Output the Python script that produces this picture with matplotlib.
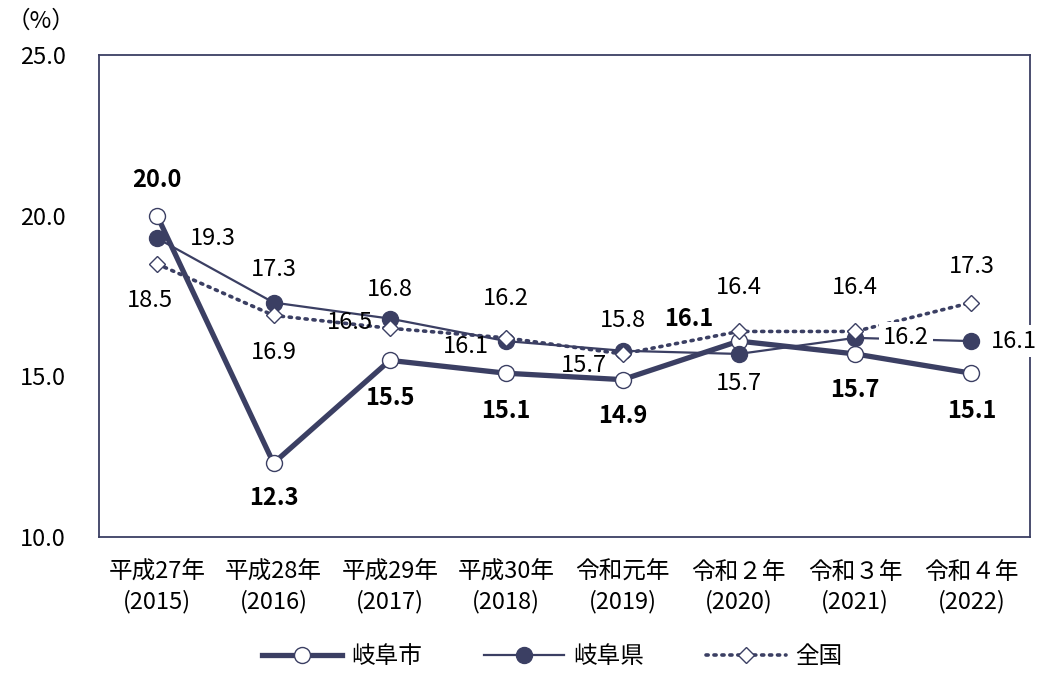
import numpy as np
import matplotlib.pyplot as plt

plt.rcParams['font.family'] = ['Noto Sans CJK JP', 'DejaVu Sans']

# data
years = ['平成27年\n(2015)', '平成28年\n(2016)', '平成29年\n(2017)', '平成30年\n(2018)',
         '令和元年\n(2019)', '令和２年\n(2020)', '令和３年\n(2021)', '令和４年\n(2022)']
gifu_city = [20.0, 12.3, 15.5, 15.1, 14.9, 16.1, 15.7, 15.1]
gifu_pref = [19.3, 17.3, 16.8, 16.1, 15.8, 15.7, 16.2, 16.1]
national = [18.5, 16.9, 16.5, 16.2, 15.7, 16.4, 16.4, 17.3]

navy = '#3b3f63'
x = np.arange(len(years))

fig = plt.figure(figsize=(10.48, 6.73), dpi=100)
ax = fig.add_axes([0.0945, 0.202, 0.888, 0.716])

ax.plot(x, gifu_city, color=navy, lw=3.8, marker='o', ms=11.5, mfc='white',
        mec=navy, mew=1.0, label='岐阜市', zorder=3)
ax.plot(x, gifu_pref, color=navy, lw=1.6, marker='o', ms=11.5, mfc=navy,
        mec=navy, label='岐阜県', zorder=4)
ax.plot(x, national, color=navy, lw=2.6, ls=(0, (0.6, 1.6)), dash_capstyle='round',
        marker='D', ms=8.5, mfc='white', mec=navy, mew=1.0, label='全国', zorder=5)

ax.set_xlim(-0.5, 7.5)
ax.set_ylim(10, 25)
ax.set_yticks([10, 15, 20, 25])
ax.set_yticklabels(['10.0', '15.0', '20.0', '25.0'])
ax.set_xticks(x)
ax.set_xticklabels(years, linespacing=1.35)
ax.tick_params(axis='y', length=0, pad=24, labelsize=17)
ax.tick_params(axis='x', length=0, pad=17, labelsize=17)
for s in ax.spines.values():
    s.set_color(navy)
    s.set_linewidth(1.3)

fs = 17
# label offsets (points)
city_off = [(0, 26), (0, -25), (0, -27), (0, -27), (0, -26), (-36, 16), (0, -26), (0, -27)]
pref_off = [(40, 0), (0, 24), (0, 21), (-29, -4), (0, 22), (0, -21), (20, 0), (14, 0)]
nat_off = [(-5, -26), (0, -27), (-29, 4), (0, 28), (-28, -8), (0, 32), (0, 32), (0, 26)]

for i in range(len(years)):
    ax.annotate(f'{gifu_city[i]:.1f}', (x[i], gifu_city[i]), xytext=city_off[i],
                textcoords='offset points', ha='center', va='center',
                fontsize=fs, fontweight='bold', zorder=6)
    if i >= 6:
        ax.annotate(f'{gifu_pref[i]:.1f}', (x[i], gifu_pref[i]), xytext=pref_off[i],
                    textcoords='offset points', ha='left', va='center', fontsize=fs,
                    bbox=dict(facecolor='white', edgecolor='none', pad=3),
                    zorder=6, annotation_clip=False)
    else:
        ax.annotate(f'{gifu_pref[i]:.1f}', (x[i], gifu_pref[i]), xytext=pref_off[i],
                    textcoords='offset points', ha='center', va='center',
                    fontsize=fs, zorder=6)
    ax.annotate(f'{national[i]:.1f}', (x[i], national[i]), xytext=nat_off[i],
                textcoords='offset points', ha='center', va='center',
                fontsize=fs, zorder=6)

fig.text(0.006, 0.968, '（%）', fontsize=17, va='center')

fig.legend(loc='center', bbox_to_anchor=(0.527, 0.024), ncol=3, frameon=False,
           fontsize=17, handlelength=3.4, columnspacing=2.6, handletextpad=0.4)

fig.savefig('out.png', dpi=100)
